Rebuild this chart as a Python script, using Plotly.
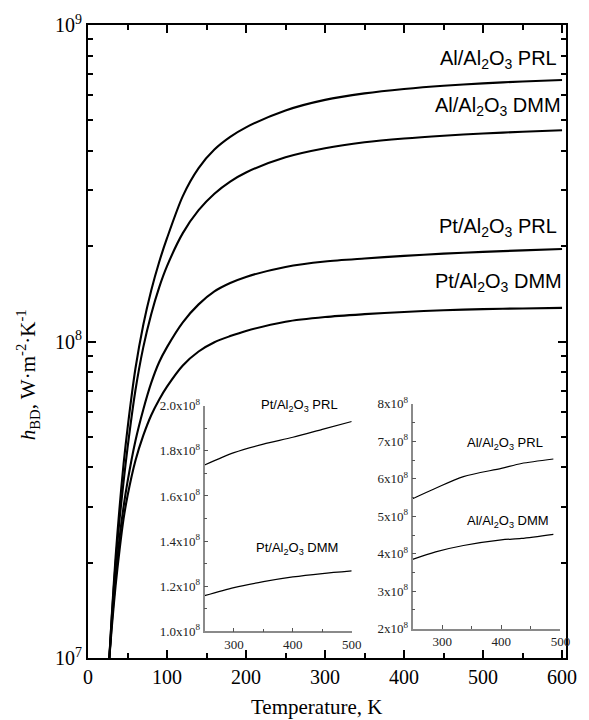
import plotly.graph_objects as go

# ---------------- data ----------------
T = [27, 30, 35, 40, 45, 50, 60, 70, 80, 90, 100, 120, 140, 160, 180, 200,
     250, 300, 350, 400, 450, 500, 550, 600]

al_prl = [1.0e7, 1.35e7, 2.1e7, 3.0e7, 4.1e7, 5.3e7, 8.2e7, 1.13e8, 1.45e8, 1.78e8, 2.12e8, 2.88e8,
          3.53e8, 4.04e8, 4.43e8, 4.75e8, 5.37e8, 5.8e8, 6.08e8, 6.28e8, 6.43e8, 6.54e8, 6.63e8, 6.7e8]
al_dmm = [1.0e7, 1.33e7, 2.0e7, 2.75e7, 3.6e7, 4.6e7, 7.0e7, 9.6e7, 1.22e8, 1.48e8, 1.73e8, 2.2e8,
          2.6e8, 2.93e8, 3.2e8, 3.42e8, 3.82e8, 4.08e8, 4.26e8, 4.38e8, 4.47e8, 4.54e8, 4.6e8, 4.65e8]
pt_prl = [1.0e7, 1.28e7, 1.8e7, 2.4e7, 3.0e7, 3.6e7, 4.85e7, 6.1e7, 7.4e7, 8.6e7, 9.6e7, 1.15e8,
          1.31e8, 1.44e8, 1.53e8, 1.6e8, 1.72e8, 1.79e8, 1.83e8, 1.865e8, 1.895e8, 1.92e8, 1.94e8, 1.96e8]
pt_dmm = [1.0e7, 1.24e7, 1.7e7, 2.2e7, 2.75e7, 3.25e7, 4.2e7, 5.05e7, 5.85e7, 6.55e7, 7.2e7, 8.4e7,
          9.3e7, 9.95e7, 1.04e8, 1.08e8, 1.155e8, 1.195e8, 1.22e8, 1.24e8, 1.255e8, 1.266e8, 1.272e8, 1.277e8]

# inset data
T_in_pt = [250, 300, 350, 400, 450, 500]
pt_prl_in = [1.737e8, 1.792e8, 1.83e8, 1.86e8, 1.895e8, 1.93e8]
pt_dmm_in = [1.158e8, 1.194e8, 1.22e8, 1.241e8, 1.256e8, 1.268e8]

T_in_al = [250, 289, 336, 400, 434, 488]
al_prl_in = [5.47e8, 5.75e8, 6.06e8, 6.28e8, 6.41e8, 6.53e8]
al_dmm_in = [3.85e8, 4.05e8, 4.22e8, 4.37e8, 4.41e8, 4.52e8]

main_xticks = [0, 100, 200, 300, 400, 500, 600]
main_yticks = [1e7, 1e8, 1e9]
main_ytext = ["10<sup>7</sup>", "10<sup>8</sup>", "10<sup>9</sup>"]

in_xticks = [300, 400, 500]
in1_yticks = [1.0e8, 1.2e8, 1.4e8, 1.6e8, 1.8e8, 2.0e8]
in1_ytext = ["1.0x10<sup>8</sup>", "1.2x10<sup>8</sup>", "1.4x10<sup>8</sup>",
             "1.6x10<sup>8</sup>", "1.8x10<sup>8</sup>", "2.0x10<sup>8</sup>"]
in2_yticks = [2e8, 3e8, 4e8, 5e8, 6e8, 7e8, 8e8]
in2_ytext = ["%dx10<sup>8</sup>" % k for k in range(2, 9)]

SERIF = "Liberation Serif"
SANS = "Liberation Sans"

fig = go.Figure()
for ys in (al_prl, al_dmm, pt_prl, pt_dmm):
    fig.add_trace(go.Scatter(x=T, y=ys, mode="lines",
                             line=dict(color="black", width=2.1, shape="spline", smoothing=0.8),
                             xaxis="x", yaxis="y", showlegend=False, hoverinfo="skip"))
for ys in (pt_prl_in, pt_dmm_in):
    fig.add_trace(go.Scatter(x=T_in_pt, y=ys, mode="lines",
                             line=dict(color="black", width=1.2, shape="spline", smoothing=0.8),
                             xaxis="x2", yaxis="y2", showlegend=False, hoverinfo="skip"))
for ys in (al_prl_in, al_dmm_in):
    fig.add_trace(go.Scatter(x=T_in_al, y=ys, mode="lines",
                             line=dict(color="black", width=1.2, shape="spline", smoothing=0.8),
                             xaxis="x3", yaxis="y3", showlegend=False, hoverinfo="skip"))

minor_y = [k * 10 ** e for e in (7, 8) for k in range(2, 10)]

inset_axis = dict(showline=True, linecolor="#8a8a8a", linewidth=1.6, ticks="inside", tickcolor="#555",
                  ticklen=4, tickwidth=1, showgrid=False, zeroline=False,
                  tickfont=dict(family=SERIF, size=13, color="#222"))

fig.update_layout(
    width=589, height=720,
    margin=dict(l=88, r=17, t=17, b=62),
    plot_bgcolor="white", paper_bgcolor="white",
    xaxis=dict(range=[0, 605], showline=True, linecolor="black", linewidth=2, mirror="ticks",
               ticks="inside", ticklen=8, tickwidth=1.5, tickcolor="black",
               tickvals=main_xticks, showgrid=False, zeroline=False,
               minor=dict(tickvals=[50, 150, 250, 350, 450, 550], ticks="inside", ticklen=5,
                          tickwidth=1.5, tickcolor="black", showgrid=False),
               tickfont=dict(family=SERIF, size=20, color="black")),
    yaxis=dict(type="log", range=[7, 9], showline=True, linecolor="black", linewidth=2, mirror="ticks",
               ticks="inside", ticklen=8, tickwidth=1.5, tickcolor="black",
               tickvals=main_yticks, ticktext=main_ytext, showgrid=False, zeroline=False,
               minor=dict(tickvals=minor_y, ticks="inside", ticklen=5, tickwidth=1.5,
                          tickcolor="black", showgrid=False),
               tickfont=dict(family=SERIF, size=20, color="black")),
    xaxis2=dict(inset_axis, domain=[0.2438, 0.5517], anchor="y2", range=[250, 500], tickvals=in_xticks,
                minor=dict(tickvals=[250, 350, 450], ticks="inside", ticklen=3, tickcolor="#555")),
    yaxis2=dict(inset_axis, domain=[0.0421, 0.3986], anchor="x2", range=[1.0e8, 2.0e8],
                tickvals=in1_yticks, ticktext=in1_ytext,
                minor=dict(tickvals=[1.1e8, 1.3e8, 1.5e8, 1.7e8, 1.9e8], ticks="inside", ticklen=3,
                           tickcolor="#555")),
    xaxis3=dict(inset_axis, domain=[0.679, 0.9884], anchor="y3", range=[250, 500], tickvals=in_xticks,
                minor=dict(tickvals=[250, 350, 450], ticks="inside", ticklen=3, tickcolor="#555")),
    yaxis3=dict(inset_axis, domain=[0.0463, 0.4014], anchor="x3", range=[2e8, 8e8],
                tickvals=in2_yticks, ticktext=in2_ytext,
                minor=dict(tickvals=[2.5e8, 3.5e8, 4.5e8, 5.5e8, 6.5e8, 7.5e8], ticks="inside",
                           ticklen=3, tickcolor="#555")),
)

AL = "Al/Al<sub>2</sub>O<sub>3</sub>"
PT = "Pt/Al<sub>2</sub>O<sub>3</sub>"

# main curve labels (data coordinates; y in log10)
for txt, yv in ((AL + " PRL", 8.892), (AL + " DMM", 8.741), (PT + " PRL", 8.360), (PT + " DMM", 8.185)):
    fig.add_annotation(x=519, y=yv, xref="x", yref="y", text=txt, showarrow=False,
                       font=dict(family=SANS, size=20, color="black"), xanchor="center", yanchor="middle")

# inset labels
fig.add_annotation(x=412, y=2.0e8, xref="x2", yref="y2", text=PT + " PRL", showarrow=False,
                   font=dict(family=SANS, size=13, color="black"), xanchor="center", yanchor="middle")
fig.add_annotation(x=407, y=1.365e8, xref="x2", yref="y2", text=PT + " DMM", showarrow=False,
                   font=dict(family=SANS, size=13, color="black"), xanchor="center", yanchor="middle")
fig.add_annotation(x=406, y=6.95e8, xref="x3", yref="y3", text=AL + " PRL", showarrow=False,
                   font=dict(family=SANS, size=13, color="black"), xanchor="center", yanchor="middle")
fig.add_annotation(x=411, y=4.85e8, xref="x3", yref="y3", text=AL + " DMM", showarrow=False,
                   font=dict(family=SANS, size=13, color="black"), xanchor="center", yanchor="middle")

# axis titles
fig.add_annotation(x=-0.126, y=0.448, xref="paper", yref="paper", textangle=-90, showarrow=False,
                   text="<i>h</i><sub>BD</sub>, W·m<sup>-2</sup>·K<sup>-1</sup>",
                   font=dict(family=SERIF, size=21, color="black"), xanchor="center", yanchor="middle")
fig.add_annotation(x=0.479, y=-0.078, xref="paper", yref="paper", showarrow=False,
                   text="Temperature, K", font=dict(family=SERIF, size=21, color="black"),
                   xanchor="center", yanchor="middle")

fig.write_html("out.html")
